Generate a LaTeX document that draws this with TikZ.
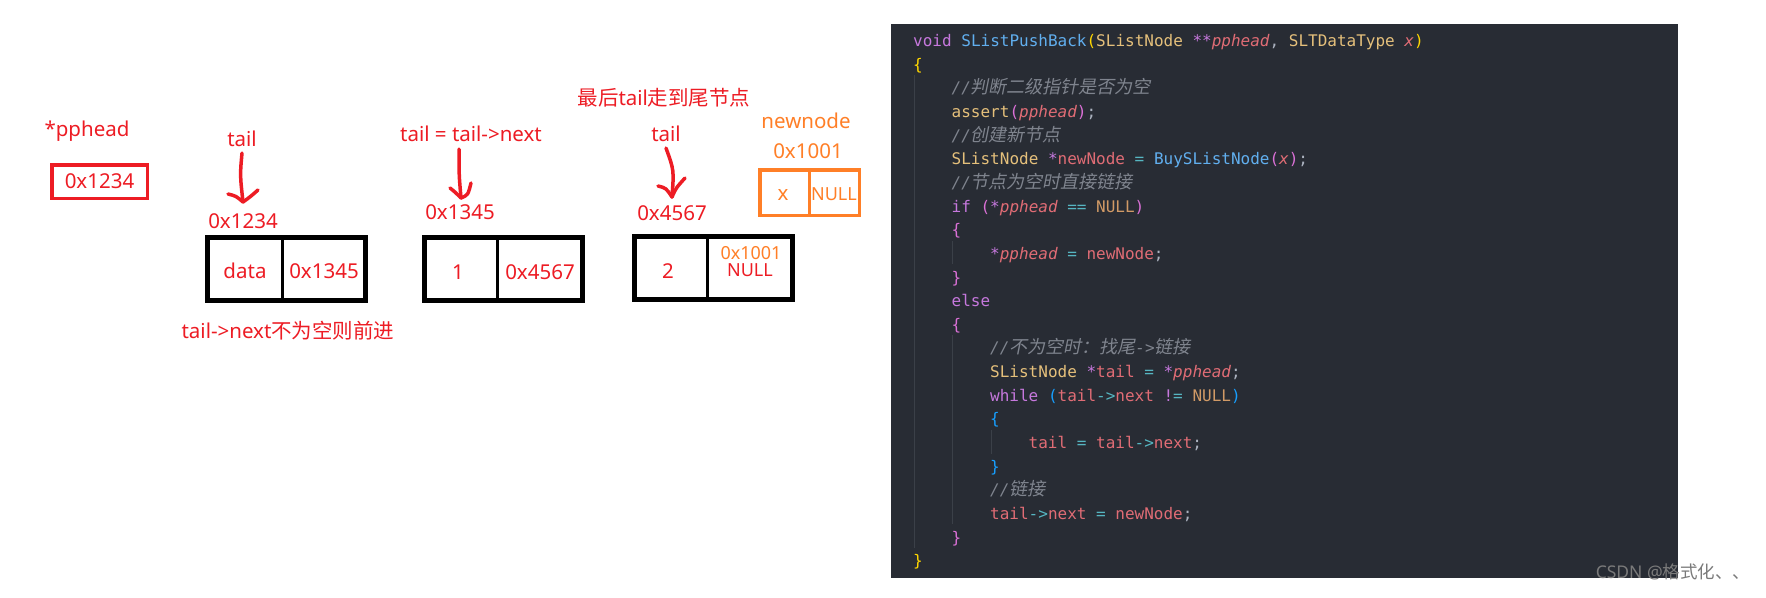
\documentclass[tikz,border=0pt]{standalone}
\usepackage{fontspec}
\setmainfont{Noto Sans}
\newfontfamily\zhfont{Noto Sans CJK SC}
\newfontfamily\zhitfont[FakeSlant=0.2]{Noto Sans CJK SC}
\newfontfamily\codefont{DejaVu Sans Mono}
\newcommand\zh[1]{{\zhfont #1}}
\newcommand\zhit[1]{{\fontsize{18}{20}\zhitfont #1}}
\definecolor{pred}{HTML}{ED1C24}
\definecolor{porange}{HTML}{FF7F27}
\definecolor{codebg}{HTML}{282C34}
\definecolor{guide}{HTML}{3B4048}
\definecolor{cKw}{HTML}{C678DD}
\definecolor{cFn}{HTML}{61AFEF}
\definecolor{cTy}{HTML}{E5C07B}
\definecolor{cVar}{HTML}{E06C75}
\definecolor{cCm}{HTML}{7F848E}
\definecolor{cNul}{HTML}{D19A66}
\definecolor{cOp}{HTML}{56B6C2}
\definecolor{cPu}{HTML}{ABB2BF}
\definecolor{cBa}{HTML}{FFD700}
\definecolor{cBb}{HTML}{DA70D6}
\definecolor{cBc}{HTML}{179FFF}
\definecolor{wmgray}{HTML}{7A7A7A}
\newcommand\ckw[1]{\textcolor{cKw}{#1}}
\newcommand\cfn[1]{\textcolor{cFn}{#1}}
\newcommand\cty[1]{\textcolor{cTy}{#1}}
\newcommand\cvar[1]{\textcolor{cVar}{#1}}
\newcommand\cpar[1]{\textcolor{cVar}{\itshape #1}}
\newcommand\ccm[1]{\textcolor{cCm}{\itshape #1}}
\newcommand\cnul[1]{\textcolor{cNul}{#1}}
\newcommand\cop[1]{\textcolor{cOp}{#1}}
\newcommand\cpu[1]{\textcolor{cPu}{#1}}
\newcommand\cba[1]{\textcolor{cBa}{#1}}
\newcommand\cbb[1]{\textcolor{cBb}{#1}}
\newcommand\cbc[1]{\textcolor{cBc}{#1}}
\tikzset{
  lbl/.style={font=\fontsize{20.5}{24}\selectfont, text=pred, inner sep=0},
  olbl/.style={font=\fontsize{20.5}{24}\selectfont, text=porange, inner sep=0},
  small/.style={font=\fontsize{18}{20}\selectfont, inner sep=0},
  memcell/.style={draw=black, line width=5, minimum width=158, minimum height=63, inner sep=0},
  divider/.style={draw=black, line width=3},
  pen/.style={draw=pred, line width=3.5, line cap=round, line join=round},
  code/.style={font=\fontsize{16}{19}\codefont, text=cPu, inner sep=0, anchor=base west},
  guideline/.style={draw=guide, line width=1},
}
\begin{document}
\begin{tikzpicture}[x=1pt, y=-1pt]
\useasboundingbox (0,0) rectangle (1766,597);
\fill[white] (0,0) rectangle (1766,597);

% ---------- left diagram ----------
\node[lbl] (phl) at (87,131) {*pphead};
\node[draw=pred, line width=3.5, minimum width=95.5, minimum height=33.5, inner sep=0,
      font=\fontsize{20.5}{24}\selectfont, text=pred] (ph) at (99.5,181.5) {0x1234};

% node 1
\node[lbl] (t1) at (242,139) {tail};
\node[lbl] (a1) at (243,221) {0x1234};
\node[memcell] (n1) at (286.5,269) {};
\draw[divider] (282,237.5) -- (282,300.5);
\node[lbl] (d1) at (245,271) {data};
\node[lbl] (p1) at (324,271) {0x1345};
\node[lbl] (note) at (288,331) {tail->next\zh{不为空则前进}};
\coordinate (h1) at (243,202);
\draw[pen] ([yshift=-6]t1.south) .. controls (240,175) .. (h1);
\draw[pen] (228,194) .. controls (236,196) .. (h1) .. controls (250,197) .. (258,190);

% node 2
\node[lbl] (t2) at (471,134) {tail = tail->next};
\node[lbl] (a2) at (460,212) {0x1345};
\node[memcell] (n2) at (503,269) {};
\draw[divider] (497,237.5) -- (497,300.5);
\node[lbl] (d2) at (458,272) {1};
\node[lbl] (p2) at (540,272) {0x4567};
\coordinate (h2) at (461,198);
\draw[pen] ([yshift=-7]t2.south -| 459,0) .. controls (459,175) .. (h2);
\draw[pen] (450,188) .. controls (455,192) .. (h2) .. controls (468,195) .. (471,183);

% node 3
\node[lbl] (top) at (664,98) {\zh{最后}tail\zh{走到尾节点}};
\node[lbl] (t3) at (666,134) {tail};
\node[lbl] (a3) at (672,213) {0x4567};
\node[memcell] (n3) at (713,268) {};
\draw[divider] (707,236.5) -- (707,299.5);
\node[lbl] (d3) at (668,271) {2};
\node[small, text=porange] (p3a) at (751,253) {0x1001};
\node[small, text=pred] (p3b) at (750,270) {NULL};
\coordinate (h3) at (672,197);
\draw[pen] ([yshift=-6]t3.south) .. controls (674,170) .. (h3);
\draw[pen] (658,186) .. controls (666,188) .. (h3) .. controls (676,188) .. (685,178);

% new node
\node[olbl] (nnl) at (806,121) {newnode};
\node[olbl] (nna) at (808,151) {0x1001};
\node[draw=porange, line width=3.5, minimum width=99.5, minimum height=45.5, inner sep=0] (nn) at (809.5,192.5) {};
\draw[draw=porange, line width=3] (809,170) -- (809,215);
\node[olbl] (nnx) at (783,195) {x};
\node[small, text=porange] (nnv) at (834,194) {NULL};

% ---------- code panel ----------
\fill[codebg] (891,24) rectangle (1678,578);
\draw[guideline] (914,75) -- (914,548);
\draw[guideline] (952.5,240.5) -- (952.5,264.2);
\draw[guideline] (952.5,335) -- (952.5,524.3);
\draw[guideline] (991,430) -- (991,453.6);

\node[code] (c1) at (913,46.5) {\ckw{void} \cfn{SListPushBack}\cba{(}\cty{SListNode} \ckw{**}\cpar{pphead}\cpu{,} \cty{SLTDataType} \cpar{x}\cba{)}};
\node[code] (c2) at (913,70.15) {\cba{\{}};
\node[code] (c3) at (951.5,93.8) {\ccm{//\zhit{判断二级指针是否为空}}};
\node[code] (c4) at (951.5,117.45) {\cty{assert}\cbb{(}\cpar{pphead}\cbb{)}\cpu{;}};
\node[code] (c5) at (951.5,141.1) {\ccm{//\zhit{创建新节点}}};
\node[code] (c6) at (951.5,164.75) {\cty{SListNode} \ckw{*}\cvar{newNode} \cop{=} \cfn{BuySListNode}\cbb{(}\cpar{x}\cbb{)}\cpu{;}};
\node[code] (c7) at (951.5,188.4) {\ccm{//\zhit{节点为空时直接链接}}};
\node[code] (c8) at (951.5,212.05) {\ckw{if} \cbb{(}\ckw{*}\cpar{pphead} \cop{==} \cnul{NULL}\cbb{)}};
\node[code] (c9) at (951.5,235.7) {\cbb{\{}};
\node[code] (c10) at (990,259.35) {\ckw{*}\cpar{pphead} \cop{=} \cvar{newNode}\cpu{;}};
\node[code] (c11) at (951.5,283.0) {\cbb{\}}};
\node[code] (c12) at (951.5,306.65) {\ckw{else}};
\node[code] (c13) at (951.5,330.3) {\cbb{\{}};
\node[code] (c14) at (990,353.95) {\ccm{//\zhit{不为空时：找尾}->\zhit{链接}}};
\node[code] (c15) at (990,377.6) {\cty{SListNode} \ckw{*}\cvar{tail} \cop{=} \ckw{*}\cpar{pphead}\cpu{;}};
\node[code] (c16) at (990,401.25) {\ckw{while} \cbc{(}\cvar{tail}\cop{->}\cvar{next} \ckw{!}\cop{=} \cnul{NULL}\cbc{)}};
\node[code] (c17) at (990,424.9) {\cbc{\{}};
\node[code] (c18) at (1028.5,448.55) {\cvar{tail} \cop{=} \cvar{tail}\cop{->}\cvar{next}\cpu{;}};
\node[code] (c19) at (990,472.2) {\cbc{\}}};
\node[code] (c20) at (990,495.85) {\ccm{//\zhit{链接}}};
\node[code] (c21) at (990,519.5) {\cvar{tail}\cop{->}\cvar{next} \cop{=} \cvar{newNode}\cpu{;}};
\node[code] (c22) at (951.5,543.15) {\cbb{\}}};
\node[code] (c23) at (913,566.8) {\cba{\}}};

% watermark
\node[font=\fontsize{17.5}{20}\selectfont, text=wmgray, inner sep=0] (wm) at (1673,572) {CSDN @\zh{格式化、、}};
\end{tikzpicture}
\end{document}
